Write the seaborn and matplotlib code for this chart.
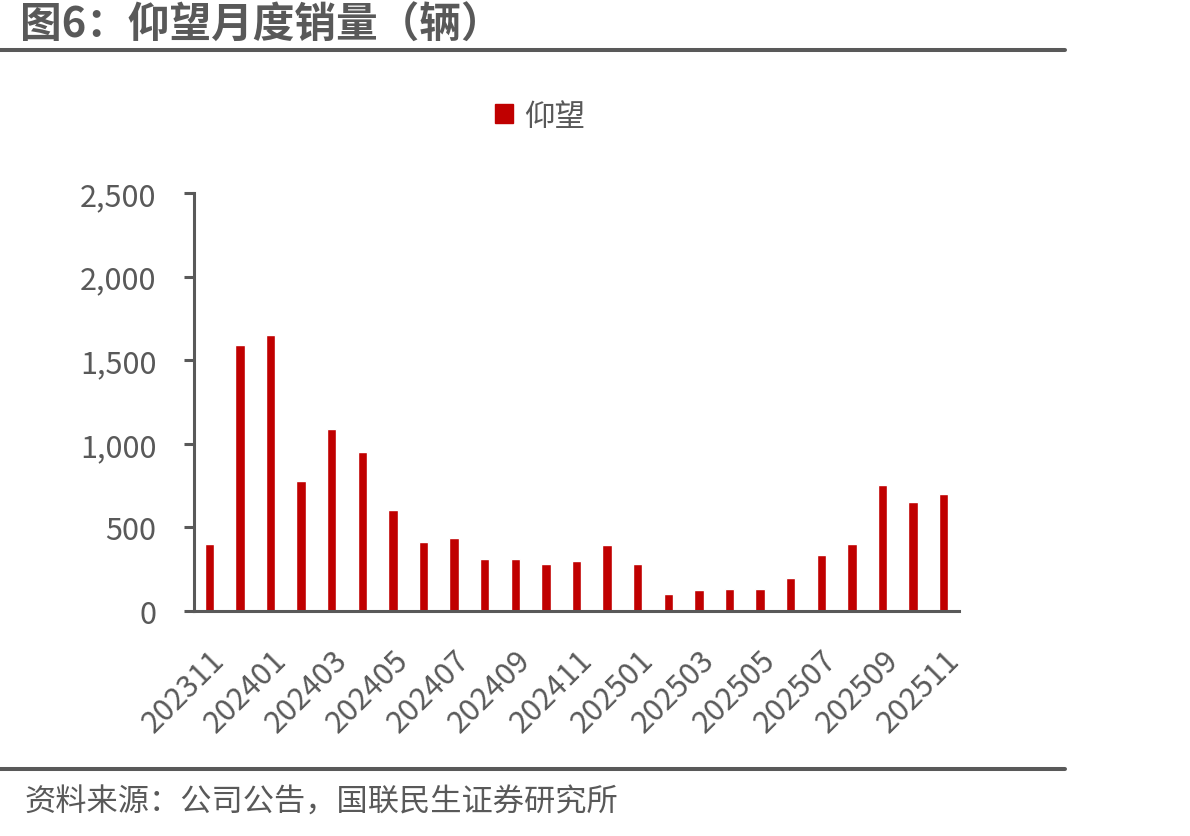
import numpy as np
import pandas as pd
import seaborn as sns
import matplotlib
matplotlib.use("Agg")
from matplotlib import pyplot as plt
from matplotlib.lines import Line2D
from matplotlib.patches import Patch

# data
months = ["202311", "202312", "202401", "202402", "202403", "202404",
          "202405", "202406", "202407", "202408", "202409", "202410",
          "202411", "202412", "202501", "202502", "202503", "202504",
          "202505", "202506", "202507", "202508", "202509", "202510",
          "202511"]
sales = [403, 1588, 1648, 776, 1086, 948, 603, 415, 435, 309, 309, 280,
         297, 397, 284, 100, 128, 130, 134, 200, 333, 399, 752, 649, 698]
series_name = "仰望"
title = "图6：仰望月度销量（辆）"
source = "资料来源：公司公告，国联民生证券研究所"

gray = "#595959"
red = "#C00000"

sns.set_style("white")
plt.rcParams["font.family"] = ["Noto Sans CJK SC", "DejaVu Sans"]

df = pd.DataFrame({"month": months, "sales": sales})

W, H = 1190, 837
fig = plt.figure(figsize=(W / 100, H / 100), dpi=100)
ax = fig.add_axes([194 / W, 1 - 612 / H, (959 - 194) / W, (612 - 194) / H])

sns.barplot(data=df, x="month", y="sales", color=red, saturation=1,
            width=0.31, ax=ax)

ax.set_xlim(-0.5, len(months) - 0.5)
ax.set_ylim(0, 2500)
ax.set_yticks(np.arange(0, 2501, 500))
ax.set_yticklabels([f"{v:,}" for v in range(0, 2501, 500)])
ax.set_xlabel(None)
ax.set_ylabel(None)

# tick labels every other month, tick marks at category boundaries
ax.set_xticks(np.arange(0, len(months), 2))
ax.set_xticklabels(months[::2], rotation=45, ha="right",
                   rotation_mode="anchor")
ax.set_xticks(np.arange(-0.5, len(months), 1), minor=True)
ax.tick_params(axis="x", which="major", length=0, pad=24,
               labelsize=22, labelcolor=gray)
ax.tick_params(axis="x", which="minor", length=7, width=2.2,
               color=gray, direction="out")
ax.tick_params(axis="y", length=7, width=2.2, color=gray, pad=20,
               labelsize=22, labelcolor=gray, direction="out", left=True)

for s in ["top", "right"]:
    ax.spines[s].set_visible(False)
for s in ["left", "bottom"]:
    ax.spines[s].set_color(gray)
    ax.spines[s].set_linewidth(2.2)

# legend
ax.legend(handles=[Patch(color=red, label=series_name)],
          loc="center", bbox_to_anchor=(540 / W, 1 - 117 / H),
          bbox_transform=fig.transFigure, frameon=False, fontsize=22,
          labelcolor=gray, handlelength=0.6, handleheight=0.6,
          handletextpad=0.35)

# title, source and rules
fig.text(20 / W, 1 - 26 / H, title, fontsize=30, fontweight="bold",
         color=gray, va="center", ha="left")
fig.add_artist(Line2D([0, 1065 / W], [1 - 51 / H] * 2, color=gray, lw=2.9))
fig.add_artist(Line2D([0, 1065 / W], [1 - 770 / H] * 2, color=gray, lw=2.9))
fig.text(24 / W, 1 - 803 / H, source, fontsize=22.5, color=gray,
         va="center", ha="left")

fig.savefig("out.png", dpi=100)
